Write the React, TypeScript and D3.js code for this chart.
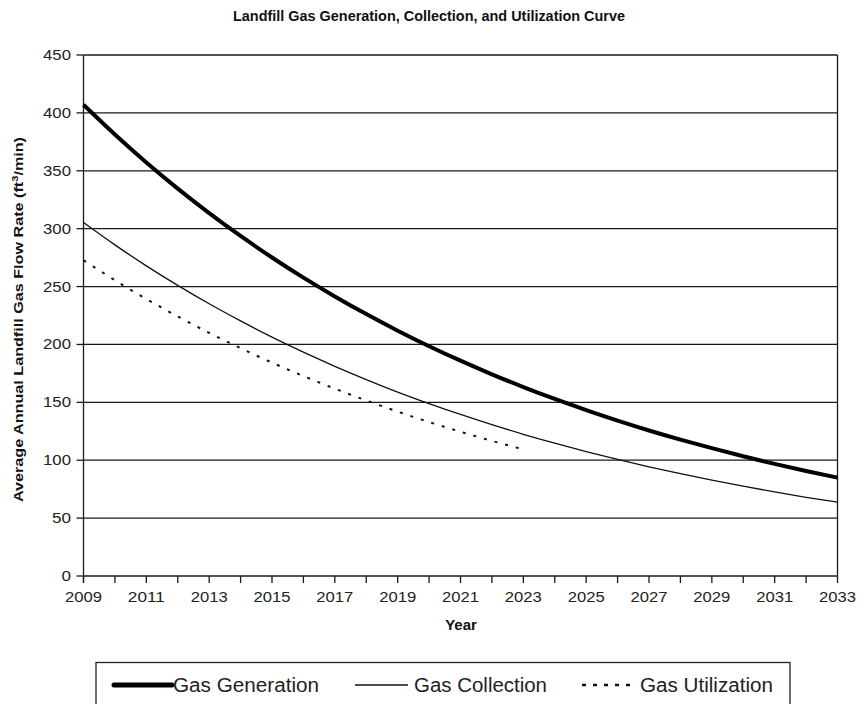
import React from "react";
import * as d3 from "d3";

const years: number[] = [2009, 2010, 2011, 2012, 2013, 2014, 2015, 2016, 2017, 2018, 2019, 2020, 2021, 2022, 2023, 2024, 2025, 2026, 2027, 2028, 2029, 2030, 2031, 2032, 2033];
const generation: number[] = [407, 381.3, 357.2, 334.6, 313.5, 293.7, 275.1, 257.7, 241.5, 226.2, 211.9, 198.5, 186.0, 174.2, 163.2, 152.9, 143.3, 134.2, 125.7, 117.8, 110.4, 103.4, 96.8, 90.7, 85.0];
const collection: number[] = [305.3, 286.0, 267.9, 251.0, 235.1, 220.3, 206.3, 193.3, 181.1, 169.7, 158.9, 148.9, 139.5, 130.7, 122.4, 114.7, 107.5, 100.7, 94.3, 88.4, 82.8, 77.6, 72.6, 68.0, 63.8];
const utilYears: number[] = [2009, 2010, 2011, 2012, 2013, 2014, 2015, 2016, 2017, 2018, 2019, 2020, 2021, 2022, 2023];
const utilization: number[] = [272.7, 255.5, 239.3, 224.2, 210.0, 196.8, 184.3, 172.7, 161.8, 151.6, 142.0, 133.0, 124.6, 116.7, 109.3];
const yTicks: number[] = [0, 50, 100, 150, 200, 250, 300, 350, 400, 450];
const xLabelYears: number[] = [2009, 2011, 2013, 2015, 2017, 2019, 2021, 2023, 2025, 2027, 2029, 2031, 2033];
const legendItems: string[] = ["Gas Generation", "Gas Collection", "Gas Utilization"];

const W = 858;
const H = 704;
const left = 83.5;
const right = 837.5;
const top = 55;
const bottom = 576;
const font = "'Liberation Sans', Arial, sans-serif";

export default function App() {
  const x = d3.scaleLinear().domain([2009, 2033]).range([left, right]);
  const y = d3.scaleLinear().domain([0, 450]).range([bottom, top]);
  const line = d3
    .line<[number, number]>()
    .x((d) => x(d[0]))
    .y((d) => y(d[1]))
    .curve(d3.curveNatural);

  const genPath = line(years.map((yr, i) => [yr, generation[i]] as [number, number])) || "";
  const colPath = line(years.map((yr, i) => [yr, collection[i]] as [number, number])) || "";
  const utilPath = line(utilYears.map((yr, i) => [yr, utilization[i]] as [number, number])) || "";

  const allYears = d3.range(2009, 2034);

  return (
    <svg
      width={W}
      height={H}
      style={{ position: "absolute", left: 0, top: 0, background: "#fff" }}
      fontFamily={font}
    >
      <rect x={0} y={0} width={W} height={H} fill="#fff" />
      <text
        x={429}
        y={21}
        textAnchor="middle"
        fontSize={15}
        fontWeight="bold"
        textLength={392}
        lengthAdjust="spacingAndGlyphs"
        fill="#111"
      >
        Landfill Gas Generation, Collection, and Utilization Curve
      </text>

      {yTicks.map((t) => (
        <line key={"g" + t} x1={left} x2={right} y1={y(t)} y2={y(t)} stroke="#1a1a1a" strokeWidth={1.3} />
      ))}
      <line x1={right} x2={right} y1={top} y2={bottom} stroke="#1a1a1a" strokeWidth={1.3} />
      <line x1={left} x2={left} y1={top} y2={bottom + 7} stroke="#1a1a1a" strokeWidth={1.3} />

      {yTicks.map((t) => (
        <g key={"y" + t}>
          <line x1={left - 7} x2={left} y1={y(t)} y2={y(t)} stroke="#1a1a1a" strokeWidth={1.3} />
          <text
            x={71}
            y={y(t) + 5}
            textAnchor="end"
            fontSize={14}
            textLength={t >= 100 ? 28 : t >= 10 ? 19 : 9.5}
            lengthAdjust="spacingAndGlyphs"
            fill="#222"
          >
            {t}
          </text>
        </g>
      ))}

      {allYears.map((yr) => (
        <line key={"x" + yr} x1={x(yr)} x2={x(yr)} y1={bottom} y2={bottom + 7} stroke="#1a1a1a" strokeWidth={1.3} />
      ))}
      {xLabelYears.map((yr) => (
        <text
          key={"xl" + yr}
          x={x(yr)}
          y={602}
          textAnchor="middle"
          fontSize={15}
          textLength={37}
          lengthAdjust="spacingAndGlyphs"
          fill="#222"
        >
          {yr}
        </text>
      ))}

      <text x={461} y={630} textAnchor="middle" fontSize={15} fontWeight="bold" fill="#111">
        Year
      </text>
      <text
        transform={`translate(23,${319.5}) rotate(-90)`}
        textAnchor="middle"
        fontSize={13}
        fontWeight="bold"
        fill="#111"
        textLength={365}
        lengthAdjust="spacingAndGlyphs"
      >
        Average Annual Landfill Gas Flow Rate (ft
        <tspan fontSize={9} dy={-5}>3</tspan>
        <tspan dy={5}>/min)</tspan>
      </text>

      <path d={colPath} fill="none" stroke="#111" strokeWidth={1.3} />
      <path d={utilPath} fill="none" stroke="#111" strokeWidth={2} strokeDasharray="3,8" />
      <path d={genPath} fill="none" stroke="#000" strokeWidth={4} />

      <rect x={96} y={662.5} width={694} height={60} fill="#fff" stroke="#222" strokeWidth={1.3} />
      <line x1={114} x2={172} y1={685} y2={685} stroke="#000" strokeWidth={5} strokeLinecap="round" />
      <text x={173} y={692} fontSize={19.5} textLength={146} lengthAdjust="spacingAndGlyphs" fill="#222">
        {legendItems[0]}
      </text>
      <line x1={355} x2={408} y1={685} y2={685} stroke="#111" strokeWidth={1.3} />
      <text x={414} y={692} fontSize={19.5} textLength={133} lengthAdjust="spacingAndGlyphs" fill="#222">
        {legendItems[1]}
      </text>
      <line x1={582} x2={634} y1={685} y2={685} stroke="#111" strokeWidth={2.5} strokeDasharray="4,7" />
      <text x={640} y={692} fontSize={19.5} textLength={133} lengthAdjust="spacingAndGlyphs" fill="#222">
        {legendItems[2]}
      </text>
    </svg>
  );
}
